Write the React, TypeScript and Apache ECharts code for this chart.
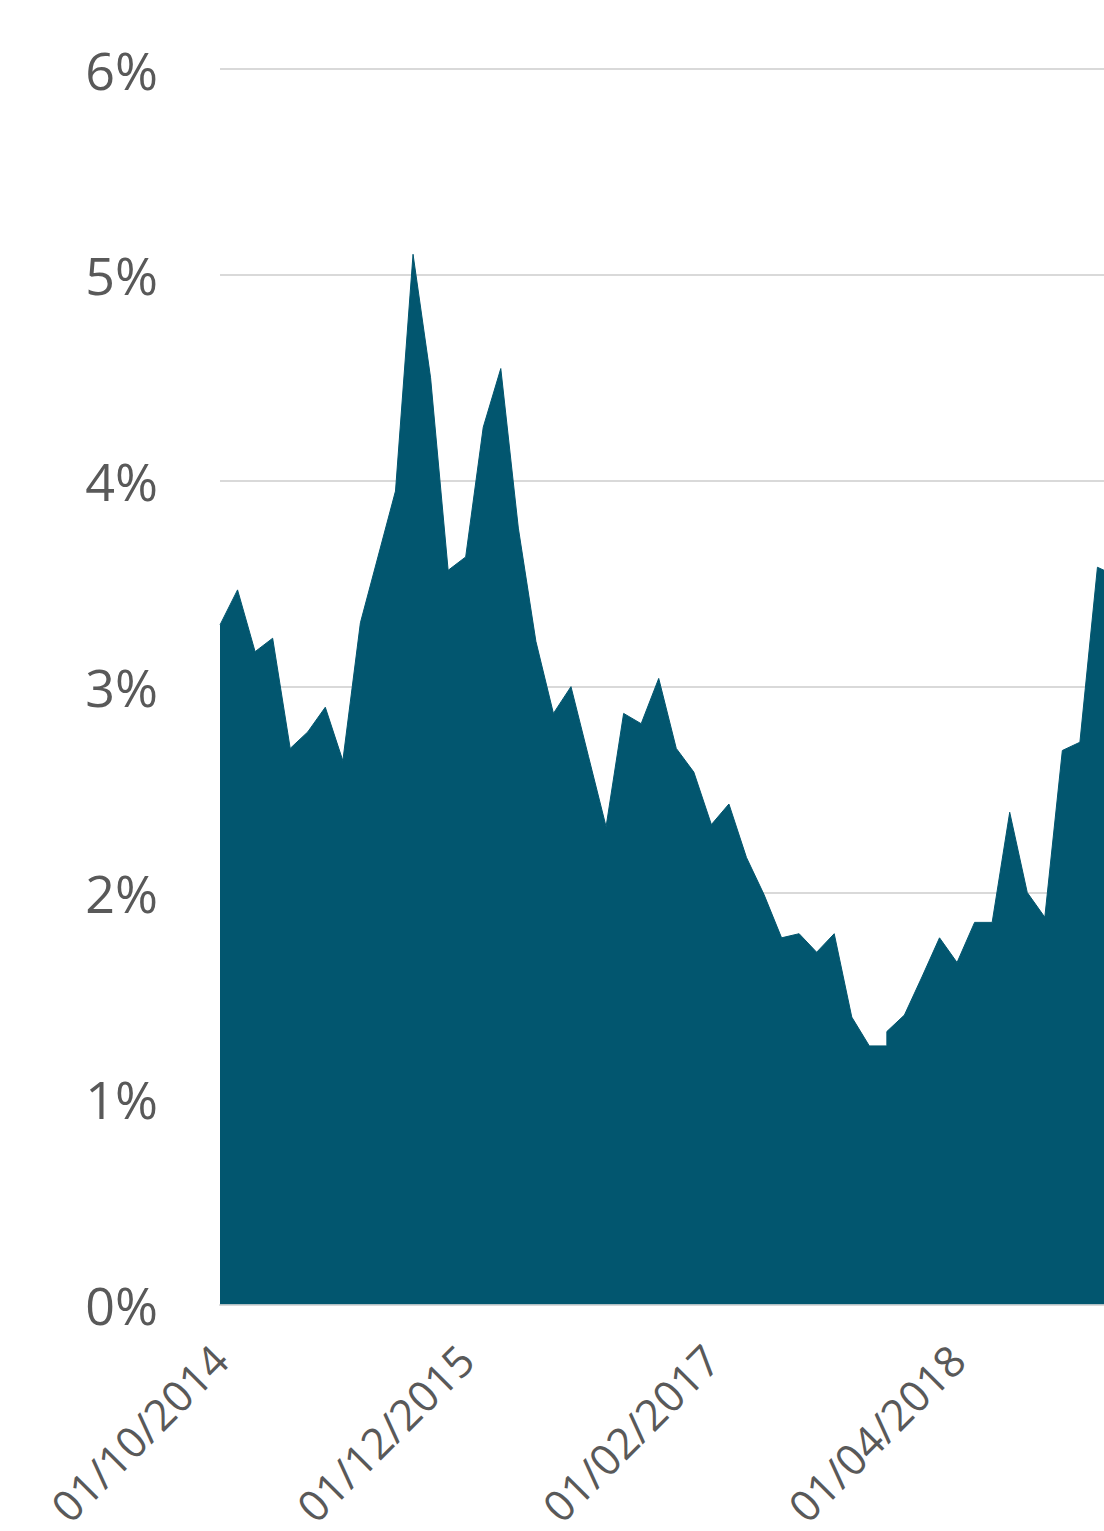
import React, { useEffect, useRef } from "react";
import * as echarts from "echarts";

const dates: string[] = [
  "01/10/2014", "01/11/2014", "01/12/2014", "01/01/2015", "01/02/2015", "01/03/2015",
  "01/04/2015", "01/05/2015", "01/06/2015", "01/07/2015", "01/08/2015", "01/09/2015",
  "01/10/2015", "01/11/2015", "01/12/2015", "01/01/2016", "01/02/2016", "01/03/2016",
  "01/04/2016", "01/05/2016", "01/06/2016", "01/07/2016", "01/08/2016", "01/09/2016",
  "01/10/2016", "01/11/2016", "01/12/2016", "01/01/2017", "01/02/2017", "01/03/2017",
  "01/04/2017", "01/05/2017", "01/06/2017", "01/07/2017", "01/08/2017", "01/09/2017",
  "01/10/2017", "01/11/2017", "01/12/2017", "01/12/2017", "01/01/2018", "01/02/2018",
  "01/03/2018", "01/04/2018", "01/05/2018", "01/06/2018", "01/07/2018", "01/08/2018",
  "01/09/2018", "01/10/2018", "01/11/2018", "01/12/2018", "01/01/2019",
];

const values: number[] = [
  3.30, 3.47, 3.17, 3.235, 2.70, 2.78,
  2.90, 2.64, 3.31, 3.63, 3.95, 5.10,
  4.50, 3.565, 3.63, 4.26, 4.545, 3.77,
  3.22, 2.87, 3.00, 2.66, 2.32, 2.87,
  2.82, 3.04, 2.70, 2.585, 2.33, 2.43,
  2.17, 1.99, 1.78, 1.80, 1.71, 1.80,
  1.395, 1.255, 1.255, 1.325, 1.405, 1.59,
  1.78, 1.66, 1.855, 1.855, 2.39, 2.00,
  1.88, 2.69, 2.73, 3.58, 3.54,
];

const yTicks: number[] = [0, 1, 2, 3, 4, 5, 6];
const startYear = 2014;
const startMonth = 10;

function monthIndex(d: string): number {
  const [, mm, yyyy] = d.split("/");
  return (Number(yyyy) - startYear) * 12 + (Number(mm) - startMonth);
}

function indexToDate(i: number): string {
  const total = startMonth - 1 + i;
  const y = startYear + Math.floor(total / 12);
  const m = (total % 12) + 1;
  return `01/${m < 10 ? "0" + m : m}/${y}`;
}

export default function App() {
  const ref = useRef<HTMLDivElement>(null);

  useEffect(() => {
    if (!ref.current) return;
    const chart = echarts.init(ref.current, undefined, { renderer: "svg" });
    const xs = dates.map(monthIndex);
    const maxX = Math.max(...xs);
    chart.setOption({
      animation: false,
      backgroundColor: "#ffffff",
      textStyle: { fontFamily: "Open Sans" },
      grid: { left: 220, right: 15, top: 69, bottom: 226, containLabel: false },
      xAxis: {
        type: "value",
        min: 0,
        max: maxX,
        interval: 14,
        splitLine: { show: false },
        axisTick: { show: false },
        axisLine: { show: true, lineStyle: { color: "#d9d9d9", width: 2 } },
        axisLabel: {
          rotate: 45,
          margin: 48,
          fontSize: 43,
          color: "#595959",
          fontFamily: "Open Sans",
          showMaxLabel: false,
          formatter: (v: number) => indexToDate(v),
        },
      },
      yAxis: {
        type: "value",
        min: yTicks[0],
        max: yTicks[yTicks.length - 1],
        interval: 1,
        axisLine: { show: false },
        axisTick: { show: false },
        splitLine: { show: true, lineStyle: { color: "#d9d9d9", width: 2 } },
        axisLabel: {
          margin: 62,
          fontSize: 52,
          color: "#595959",
          fontFamily: "Open Sans",
          formatter: (v: number) => `${v}%`,
        },
      },
      series: [
        {
          type: "line",
          data: xs.map((x, i) => [x, values[i]]),
          symbol: "none",
          lineStyle: { color: "#02566f", width: 1 },
          areaStyle: { color: "#02566f", opacity: 1 },
          z: 3,
        },
      ],
    });
    return () => chart.dispose();
  }, []);

  return (
    <div
      style={{
        position: "fixed",
        left: 0,
        top: 0,
        width: 1104,
        height: 1531,
        overflow: "hidden",
        background: "#ffffff",
      }}
    >
      <div ref={ref} style={{ width: 1130, height: 1531 }} />
    </div>
  );
}
